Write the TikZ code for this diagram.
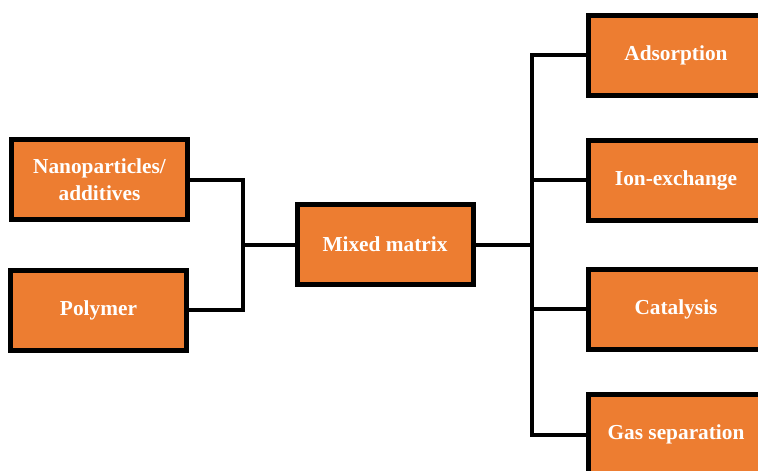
\documentclass[tikz,border=0pt]{standalone}
\usepackage{fontspec}
\setmainfont{Liberation Serif}
\usepackage{tikz}
\usetikzlibrary{positioning}
\definecolor{boxorange}{HTML}{ED7D31}
\tikzset{
    font={\fontsize{16pt}{20pt}\selectfont\bfseries},
    block/.style={
           rectangle,
           draw=black, line width=3.75pt,
           fill=boxorange,
           text=white,
           minimum width=132pt,
           minimum height=60pt,
           inner sep=2pt,
           align=center,
           },
    link/.style={draw=black, line width=3pt},
}
\begin{document}
\begin{tikzpicture}[x=0.75pt,y=-0.75pt]

\clip (0,0) rectangle (758,471);
\fill[white] (0,0) rectangle (758,471);

% inputs
\node[block] (NANOPARTICLES) at (99.5,179.5) {Nanoparticles/\\additives};
\node[block] (POLYMER) at (98.5,310) {Polymer};

% membrane
\node[block] (MIXEDMATRIX) at (385,244.5) {Mixed matrix};

% applications
\node[block] (ADSORPTION) at (676,55) {Adsorption};
\node[block] (IONEXCHANGE) at (676,180) {Ion-exchange};
\node[block] (CATALYSIS) at (676,309) {Catalysis};
\node[block] (GASSEPARATION) at (676,434.5) {Gas separation};

% junctions
\coordinate (LEFTJOIN) at (243,244.5);
\coordinate (RIGHTJOIN) at (532,244.5);

\draw[link] (NANOPARTICLES.east) -| (LEFTJOIN);
\draw[link] (POLYMER.east) -| (LEFTJOIN);
\draw[link] (LEFTJOIN) -- (MIXEDMATRIX.west);
\draw[link] (MIXEDMATRIX.east) -- (RIGHTJOIN);
\draw[link] (RIGHTJOIN) |- (ADSORPTION.west);
\draw[link] (RIGHTJOIN) |- (IONEXCHANGE.west);
\draw[link] (RIGHTJOIN) |- (CATALYSIS.west);
\draw[link] (RIGHTJOIN) |- (GASSEPARATION.west);

\end{tikzpicture}
\end{document}
